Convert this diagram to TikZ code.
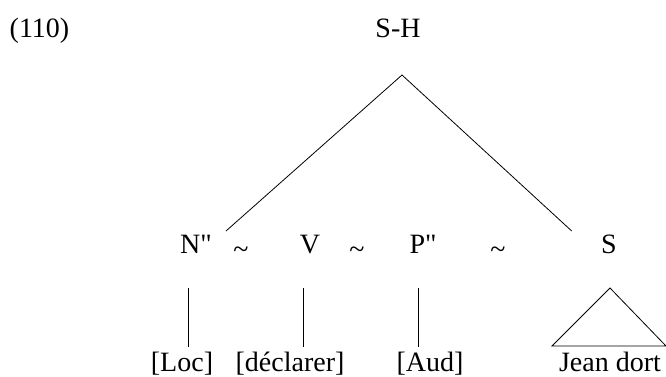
\documentclass[tikz,border=0pt]{standalone}
\usepackage{fontspec}
\setmainfont{Liberation Serif}
\newfontfamily\plainserif{Liberation Serif}[Ligatures=TeXOff]
\begin{document}
\begin{tikzpicture}[x=1pt,y=1pt,
  lbl/.style={inner sep=0pt,anchor=base,font=\fontsize{28}{30}\selectfont\plainserif},
  tl/.style={lbl,yshift=-5pt},
  edge/.style={line width=0.8pt,line join=miter}]
\useasboundingbox (0,0) rectangle (666,376);
% labels
\node[lbl,anchor=base west] (ex) at (9.5,338.5) {(110)};
\node[lbl] (sh) at (398,338.5) {S-H};
\node[lbl] (np) at (196,123) {N"};
\node[tl] (t1) at (241,123) {\string~};
\node[lbl] (v) at (310,123) {V};
\node[tl] (t2) at (357,123) {\string~};
\node[lbl] (pp) at (423,123) {P"};
\node[tl] (t3) at (498,123) {\string~};
\node[lbl] (s) at (609,123) {S};
\node[lbl] (loc) at (182,5) {[Loc]};
\node[lbl] (decl) at (290,5) {[déclarer]};
\node[lbl] (aud) at (430,5) {[Aud]};
\node[lbl] (jd) at (610,5) {Jean dort};
% connector end points
\coordinate (shb) at (402,301);
\coordinate (npt) at (226,145);
\coordinate (stp) at (571.7,145);
\coordinate (l1t) at (188,88);  \coordinate (l1b) at (188,29);
\coordinate (l2t) at (303,88);  \coordinate (l2b) at (303,29);
\coordinate (l3t) at (418,88);  \coordinate (l3b) at (418,29);
\coordinate (tra) at (610,88);
\coordinate (trl) at (552,30);
\coordinate (trr) at (666,30);
% connectors
\draw[edge] (npt) -- (shb) -- (stp);
\draw[edge] (l1t) -- (l1b);
\draw[edge] (l2t) -- (l2b);
\draw[edge] (l3t) -- (l3b);
\draw[edge] (trl) -- (tra) -- (trr) -- cycle;
\end{tikzpicture}
\end{document}
